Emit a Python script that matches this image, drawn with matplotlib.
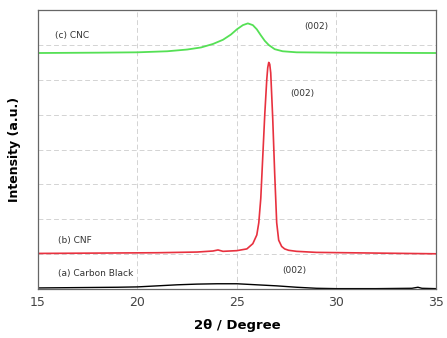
import matplotlib
matplotlib.use("Agg")
import matplotlib.pyplot as plt

# XRD patterns, intensities stacked with offsets (arbitrary units)
two_theta_cb = [15, 17, 19, 20, 21, 22, 23, 24, 25, 26, 27, 28, 29, 30, 32, 33.8, 34.1, 34.3, 35]
int_cb = [0.03, 0.04, 0.05, 0.06, 0.09, 0.12, 0.14, 0.15, 0.15, 0.12, 0.09, 0.05, 0.02,
          0.01, 0.01, 0.02, 0.05, 0.02, 0.01]

two_theta_cnf = [15, 18, 21, 23, 23.8, 24.05, 24.3, 25, 25.5, 25.8, 26.0, 26.1, 26.2, 26.3,
                 26.4, 26.5, 26.55, 26.6, 26.65, 26.7, 26.8, 26.9, 27.0, 27.1, 27.25, 27.4,
                 27.6, 28, 29, 32, 35]
int_cnf = [1.02, 1.03, 1.04, 1.06, 1.09, 1.12, 1.08, 1.10, 1.15, 1.30, 1.55, 1.90, 2.60, 3.80,
           5.00, 6.00, 6.35, 6.50, 6.45, 6.20, 4.90, 3.30, 1.90, 1.40, 1.22, 1.15,
           1.11, 1.08, 1.05, 1.03, 1.01]

two_theta_cnc = [15, 18, 20, 21.5, 22.5, 23.2, 23.8, 24.3, 24.7, 25.0, 25.3, 25.55, 25.8,
                 26.0, 26.2, 26.4, 26.6, 26.9, 27.3, 28, 30, 35]
int_cnc = [6.77, 6.78, 6.79, 6.82, 6.87, 6.93, 7.03, 7.15, 7.30, 7.45, 7.57, 7.62, 7.57,
           7.45, 7.28, 7.12, 7.00, 6.88, 6.82, 6.79, 6.78, 6.77]

xticks = [15, 20, 25, 30, 35]

fig = plt.figure(figsize=(4.47, 3.38), dpi=100)
ax = fig.add_axes([0.085, 0.145, 0.89, 0.825])

ax.plot(two_theta_cb, int_cb, color="black", lw=1.0)
ax.plot(two_theta_cnf, int_cnf, color="#e8313f", lw=1.2)
ax.plot(two_theta_cnc, int_cnc, color="#55e055", lw=1.3)

txt = dict(fontsize=6.5, color="#333333")
ax.text(15.85, 7.2, "(c) CNC", **txt)
ax.text(28.4, 7.45, "(002)", **txt)
ax.text(27.7, 5.55, "(002)", **txt)
ax.text(16.0, 1.32, "(b) CNF", **txt)
ax.text(16.0, 0.38, "(a) Carbon Black", **txt)
ax.text(27.3, 0.45, "(002)", **txt)

ax.set_xlim(15, 35)
ax.set_ylim(0, 8)
ax.set_xticks(xticks)
ax.set_yticks(range(1, 8))
ax.set_yticklabels([])
ax.tick_params(axis="x", length=0, pad=5, labelsize=9, labelcolor="#444444")
ax.tick_params(axis="y", length=0)
ax.grid(True, color="#d3d3d3", ls=(0, (5, 3)), lw=0.7)

for s in ax.spines.values():
    s.set_color("#666666")
    s.set_linewidth(0.9)

ax.set_xlabel("2θ / Degree", fontsize=9.5, fontweight="bold", labelpad=7)
ax.set_ylabel("Intensity (a.u.)", fontsize=9, fontweight="bold", labelpad=9)

fig.savefig("out.png", dpi=100)
